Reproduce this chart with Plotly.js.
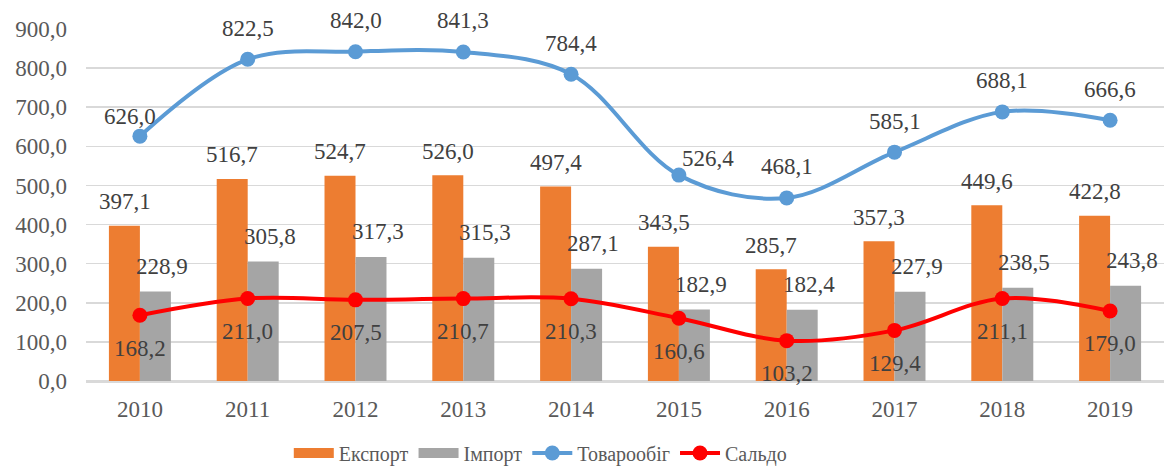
<!DOCTYPE html>
<html>
<head>
<meta charset="utf-8">
<script src="https://cdn.plot.ly/plotly-3.0.1.min.js"></script>
<style>
html,body{margin:0;padding:0;background:#fff;}
#chart{width:1172px;height:467px;}
#chart svg text{font-family:'Liberation Serif','Times New Roman',serif !important;}
</style>
</head>
<body>
<div id="chart"></div>
<script>
var years = ['2010','2011','2012','2013','2014','2015','2016','2017','2018','2019'];
var exportVals = [397.1, 516.7, 524.7, 526.0, 497.4, 343.5, 285.7, 357.3, 449.6, 422.8];
var importVals = [228.9, 305.8, 317.3, 315.3, 287.1, 182.9, 182.4, 227.9, 238.5, 243.8];
var turnoverVals = [626.0, 822.5, 842.0, 841.3, 784.4, 526.4, 468.1, 585.1, 688.1, 666.6];
var saldoVals = [168.2, 211.0, 207.5, 210.7, 210.3, 160.6, 103.2, 129.4, 211.1, 179.0];
var yTicks = [0,100,200,300,400,500,600,700,800,900];
var yTickText = ['0,0','100,0','200,0','300,0','400,0','500,0','600,0','700,0','800,0','900,0'];

var FONT = 'Liberation Serif';
var LABEL_COLOR = '#404040';
var TICK_COLOR = '#595959';
function fmt(v){ return v.toFixed(1).replace('.', ','); }

var traces = [
  {type:'bar', name:'Експорт', x:years, y:exportVals, marker:{color:'#ED7D31'}, hoverinfo:'skip', showlegend:false},
  {type:'bar', name:'Імпорт', x:years, y:importVals, marker:{color:'#A5A5A5'}, hoverinfo:'skip', showlegend:false},
  {type:'scatter', mode:'lines', name:'Експорт', x:[null], y:[null], line:{color:'#ED7D31', width:10}, showlegend:true},
  {type:'scatter', mode:'lines', name:'Імпорт', x:[null], y:[null], line:{color:'#A5A5A5', width:10}, showlegend:true},
  {type:'scatter', mode:'lines+markers', name:'Товарообіг', x:years, y:turnoverVals,
   line:{color:'#5B9BD5', width:4, shape:'spline', smoothing:1}, marker:{color:'#5B9BD5', size:15}},
  {type:'scatter', mode:'lines+markers', name:'Сальдо', x:years, y:saldoVals,
   line:{color:'#FF0000', width:4, shape:'spline', smoothing:1}, marker:{color:'#FF0000', size:15}}
];

var annotations = [];
function addLabels(vals, dx, dy, special){
  vals.forEach(function(v, i){
    var sx = dx, sy = dy;
    if (special && special[i]) { sx = special[i][0]; sy = special[i][1]; }
    annotations.push({x: i, y: v, xref:'x', yref:'y', text: fmt(v), showarrow:false, xshift:sx, yshift:sy,
      font:{family:FONT, size:23, color:LABEL_COLOR}});
  });
}
addLabels(exportVals, -15.3, 24);
addLabels(importVals, 22, 25);
addLabels(turnoverVals, 0, 31, {0:[-10,20], 5:[29,17]});
addLabels(saldoVals, 0, -33);

var layout = {
  width:1172, height:467,
  margin:{l:86, r:8, t:29, b:86},
  paper_bgcolor:'#fff', plot_bgcolor:'#fff',
  barmode:'group', bargap:0.425, bargroupgap:0,
  font:{family:FONT, size:23, color:TICK_COLOR},
  xaxis:{type:'category', categoryorder:'array', categoryarray:years, range:[-0.5, 9.5], showgrid:false, showline:true, linecolor:'#D9D9D9', linewidth:2,
    ticks:'', tickfont:{family:FONT, size:23, color:TICK_COLOR}, ticklabelstandoff:6, fixedrange:true},
  yaxis:{range:[0,900], tickmode:'array', tickvals:yTicks, ticktext:yTickText, showgrid:true, gridcolor:'#D9D9D9', gridwidth:1.5,
    zeroline:true, zerolinecolor:'#D9D9D9', zerolinewidth:2, showline:false, ticks:'',
    tickfont:{family:FONT, size:23, color:TICK_COLOR}, ticklabelstandoff:18, fixedrange:true},
  legend:{orientation:'h', x:0.461, xanchor:'center', xref:'container', y:0.03, yanchor:'middle', yref:'container',
    font:{family:FONT, size:20, color:TICK_COLOR}, itemwidth:40, traceorder:'normal'},
  showlegend:true,
  annotations:annotations
};

Plotly.newPlot('chart', traces, layout, {displayModeBar:false, staticPlot:true});
</script>
</body>
</html>
